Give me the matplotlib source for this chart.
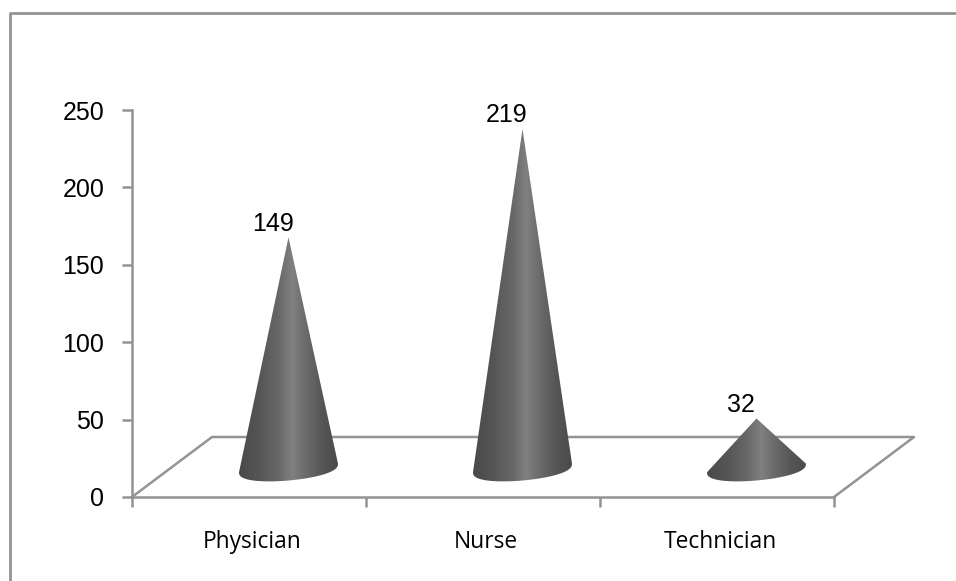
import numpy as np
import matplotlib
matplotlib.use("Agg")
import matplotlib.pyplot as plt
from matplotlib.lines import Line2D
from matplotlib.patches import PathPatch
from matplotlib.path import Path
from matplotlib.colors import LinearSegmentedColormap

categories = ["Physician", "Nurse", "Technician"]
counts = [149, 219, 32]
y_ticks = [0, 50, 100, 150, 200, 250]

W, H = 956, 581
GRID = "#939393"

fig = plt.figure(figsize=(W / 100, H / 100), dpi=100, facecolor="white")

# Plot rectangle: front edge of the floor and the height of the value axis
left, right, bottom, top = 132, 834, 497, 110
ax = fig.add_axes([left / W, 1 - bottom / H, (right - left) / W, (bottom - top) / H])
ax.set_xlim(0, len(categories))
ax.set_ylim(0, 250)
ax.patch.set_alpha(0)
for side in ("top", "right"):
    ax.spines[side].set_visible(False)
for side in ("left", "bottom"):
    ax.spines[side].set_color(GRID)
    ax.spines[side].set_linewidth(1.8)

ax.set_yticks(y_ticks)
ax.set_xticks(range(len(categories) + 1))
ax.set_xticklabels([])
ax.tick_params(axis="y", color=GRID, width=1.8, length=7, pad=13,
               labelsize=18, labelfontfamily="Liberation Sans", labelcolor="black")
ax.tick_params(axis="x", color=GRID, width=1.8, length=7)

# Depth of the floor, expressed in axis units
px_x = len(categories) / (right - left)
px_y = 250 / (bottom - top)
depth_x, depth_y = 80 * px_x, 60 * px_y
floor_x = [0, depth_x, len(categories) + depth_x, len(categories)]
floor_y = [0, depth_y, depth_y, 0]
ax.add_line(Line2D(floor_x, floor_y, color=GRID, lw=1.8, clip_on=False, zorder=1))

# Horizontal shading across a cone: dark rims with a pale band near the centre
shade = LinearSegmentedColormap.from_list(
    "cone",
    [(0.00, "#4a4a4a"), (0.20, "#555555"), (0.40, "#686868"), (0.54, "#808080"),
     (0.66, "#6d6d6d"), (0.84, "#565656"), (1.00, "#4a4a4a")],
)
gradient = np.linspace(0, 1, 256).reshape(1, -1)

half_w = 49.5 * px_x
tilt = 4.3 * px_y
base_b = 12.5 * px_y
base_offset_x = 39.5 * px_x
base_offset_y = 29 * px_y

for i, (name, value) in enumerate(zip(categories, counts)):
    cx = i + 0.5 + base_offset_x
    cy = base_offset_y

    # Lower half of the tilted base ellipse, from the right rim round to the left
    t = np.linspace(0, np.pi, 60)
    ex = cx + half_w * np.cos(t)
    ey = cy + tilt * np.cos(t) - base_b * np.sin(t) ** 0.8
    verts = [(cx, cy + value)] + list(zip(ex, ey)) + [(cx, cy + value)]
    codes = [Path.MOVETO] + [Path.LINETO] * len(ex) + [Path.CLOSEPOLY]
    outline = PathPatch(Path(verts, codes), transform=ax.transData,
                        facecolor="none", edgecolor="none")
    ax.add_patch(outline)

    img = ax.imshow(gradient, cmap=shade, aspect="auto", interpolation="bilinear",
                    extent=(cx - half_w, cx + half_w, cy - base_b - tilt, cy + value),
                    zorder=3)
    img.set_clip_path(outline)

    ax.text(cx - 15.5 * px_x, cy + value + 1.5 * px_y, str(value), ha="center", va="bottom",
            fontsize=18, family="Liberation Sans", color="black", zorder=4)
    ax.text(i + 0.5 + 3 * px_x, -45 * px_y, name, ha="center", va="center",
            fontsize=16.4, family="Open Sans", color="black")

ax.set_xlim(0, len(categories))
ax.set_ylim(0, 250)

# Chart border: only the top and left edges are ruled
fig.add_artist(Line2D([10 / W, 10 / W, 1], [0, 1 - 13 / H, 1 - 13 / H],
                      transform=fig.transFigure, color=GRID, lw=2.0))

fig.savefig("out.png", dpi=100)
